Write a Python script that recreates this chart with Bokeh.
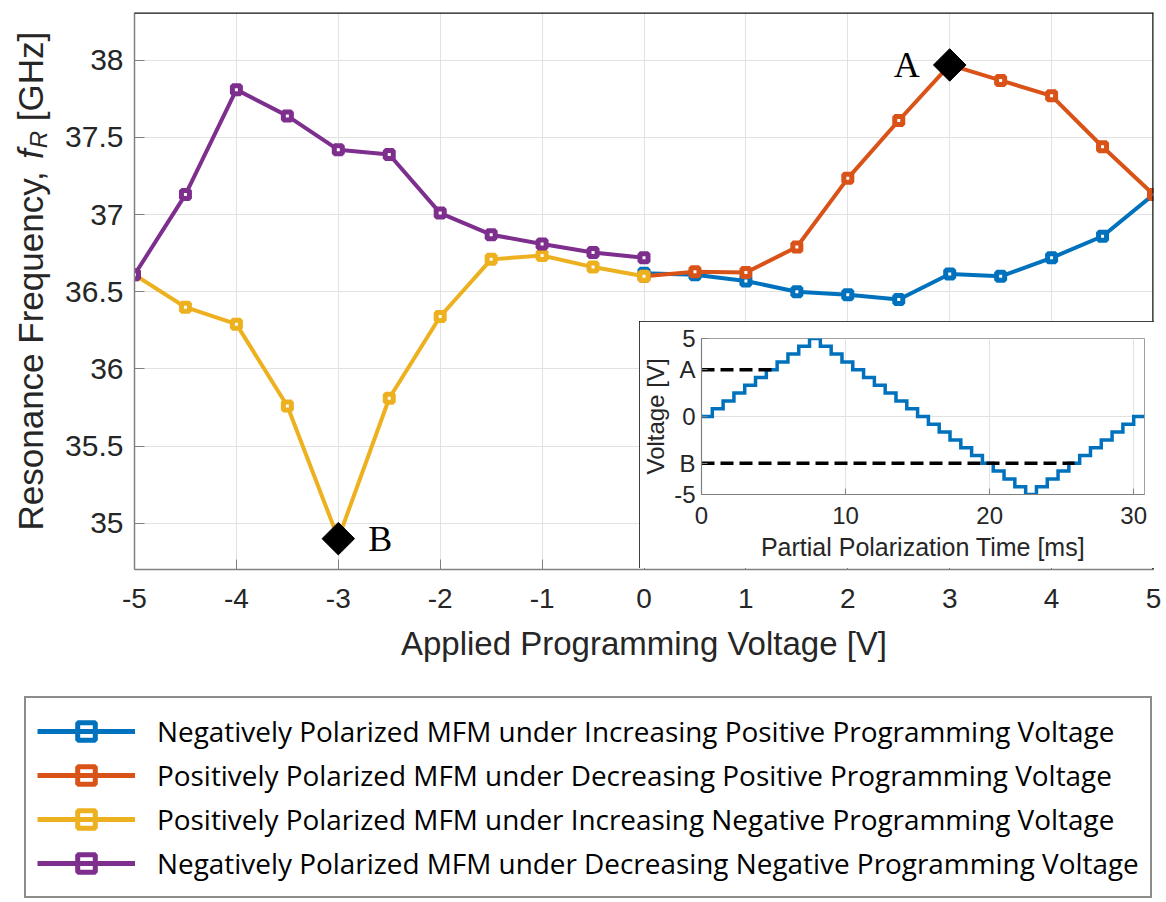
from math import pi
from bokeh.plotting import figure
from bokeh.models import Range1d, FixedTicker, Span, Legend, LegendItem
from bokeh.layouts import column, row
from bokeh.embed import file_html
from bokeh.resources import INLINE
from bokeh.core.properties import value

# ---------------- data (main chart) ----------------
series_names = [
    "Negatively Polarized MFM under Increasing Positive Programming Voltage",
    "Positively Polarized MFM under Decreasing Positive Programming Voltage",
    "Positively Polarized MFM under Increasing Negative Programming Voltage",
    "Negatively Polarized MFM under Decreasing Negative Programming Voltage",
]
series_colors = ["#0072BD", "#D95319", "#EDB120", "#7E2F8E"]

volt_blue = [0, 0.5, 1, 1.5, 2, 2.5, 3, 3.5, 4, 4.5, 5]
freq_blue = [36.62, 36.61, 36.57, 36.50, 36.48, 36.45, 36.615, 36.60, 36.72, 36.86, 37.13]

volt_orange = [5, 4.5, 4, 3.5, 3, 2.5, 2, 1.5, 1, 0.5, 0]
freq_orange = [37.13, 37.44, 37.77, 37.87, 37.97, 37.61, 37.235, 36.79, 36.625, 36.63, 36.60]

volt_yellow = [-5, -4.5, -4, -3.5, -3, -2.5, -2, -1.5, -1, -0.5, 0]
freq_yellow = [36.61, 36.40, 36.29, 35.76, 34.90, 35.81, 36.34, 36.71, 36.735, 36.66, 36.60]

volt_purple = [0, -0.5, -1, -1.5, -2, -2.5, -3, -3.5, -4, -4.5, -5]
freq_purple = [36.72, 36.755, 36.81, 36.87, 37.01, 37.39, 37.42, 37.64, 37.81, 37.13, 36.61]

point_x = [3, -3]
point_y = [37.97, 34.90]
point_labels = ["A", "B"]

X_MIN, X_MAX = -5, 5
Y_MIN, Y_MAX = 34.70, 38.31
x_ticks = [-5, -4, -3, -2, -1, 0, 1, 2, 3, 4, 5]
x_tick_labels = ["-5", "-4", "-3", "-2", "-1", "0", "1", "2", "3", "4", "5"]
y_ticks = [35, 35.5, 36, 36.5, 37, 37.5, 38]
y_tick_labels = ["35", "35.5", "36", "36.5", "37", "37.5", "38"]

x_label = "Applied Programming Voltage [V]"
y_label_parts = ["Resonance Frequency, ", "f", "R", "[GHz]"]

# ---------------- data (inset) ----------------
inset_time = [0, 0.75, 1.5, 2.25, 3, 3.75, 4.5, 5.25, 6, 6.75, 7.5, 8.25, 9, 9.75,
              10.5, 11.25, 12, 12.75, 13.5, 14.25, 15, 15.75, 16.5, 17.25, 18, 18.75,
              19.5, 20.25, 21, 21.75, 22.5, 23.25, 24, 24.75, 25.5, 26.25, 27, 27.75,
              28.5, 29.25, 30, 30.75]
inset_voltage = [0, 0.5, 1, 1.5, 2, 2.5, 3, 3.5, 4, 4.5, 5, 4.5, 4, 3.5,
                 3, 2.5, 2, 1.5, 1, 0.5, 0, -0.5, -1, -1.5, -2, -2.5,
                 -3, -3.5, -4, -4.5, -5, -4.5, -4, -3.5, -3, -2.5, -2, -1.5,
                 -1, -0.5, 0, 0]
ref_levels = [3, -3]
ref_start = [0, 0]
ref_end = [5.2, 25.9]
inset_x_ticks = [0, 10, 20, 30]
inset_x_tick_labels = ["0", "10", "20", "30"]
inset_y_ticks = [-5, -3, 0, 3, 5]
inset_y_tick_labels = ["-5", "B", "0", "A", "5"]
inset_y_grid = [-5, 0, 5]
inset_x_label = "Partial Polarization Time [ms]"
inset_y_label = "Voltage [V]"

SANS = "Liberation Sans"
SERIF = "Liberation Serif"
TXT = "#262626"
GRID = "#e2e2e2"
AXC = "#808080"

MAIN_H = 680
YLAB_W = 62

# ---------------- y-axis title (separate narrow panel) ----------------
yl = figure(width=YLAB_W, height=MAIN_H, x_range=Range1d(0, YLAB_W), y_range=Range1d(0, MAIN_H),
            output_backend="svg", toolbar_location=None, x_axis_type=None, y_axis_type=None,
            min_border=0, frame_align=False)
yl.outline_line_color = None
yl.grid.visible = False
yl.text(x=[30, 30, 38, 30], y=[150, 521.6, 532.3, 559.3], text=y_label_parts,
        angle=pi / 2, text_align="left", text_baseline="alphabetic",
        text_font=value(SANS), text_font_size=["35px", "35px", "24px", "35px"],
        text_font_style=["normal", "italic", "italic", "normal"], text_color=TXT)

# ---------------- main figure ----------------
p = figure(width=1166 - YLAB_W, height=MAIN_H, x_range=Range1d(X_MIN, X_MAX),
           y_range=Range1d(Y_MIN, Y_MAX), output_backend="svg", toolbar_location=None,
           min_border_left=133 - YLAB_W, min_border_right=13, min_border_top=12,
           min_border_bottom=111, frame_align=False)
p.outline_line_color = None
p.background_fill_color = "white"

xt = FixedTicker(ticks=x_ticks)
yt = FixedTicker(ticks=y_ticks)
p.xaxis.ticker = xt
p.yaxis.ticker = yt
p.xgrid.ticker = xt
p.ygrid.ticker = yt
p.xaxis.major_label_overrides = {t: s for t, s in zip(x_ticks, x_tick_labels)}
p.yaxis.major_label_overrides = {t: s for t, s in zip(y_ticks, y_tick_labels)}
for g in (p.xgrid[0], p.ygrid[0]):
    g.grid_line_color = GRID
    g.grid_line_width = 1
for ax in (p.xaxis[0], p.yaxis[0]):
    ax.axis_line_color = AXC
    ax.axis_line_width = 1.5
    ax.major_tick_line_color = AXC
    ax.major_tick_line_width = 1
    ax.major_tick_in = 10
    ax.major_tick_out = 0
    ax.minor_tick_line_color = None
    ax.major_label_text_font = SANS
    ax.major_label_text_color = TXT
p.xaxis.major_label_text_font_size = "28px"
p.xaxis.major_label_standoff = 19
p.yaxis.major_label_text_font_size = "30px"
p.yaxis.major_label_standoff = 11
p.xaxis.axis_label = x_label
p.xaxis.axis_label_text_font = SANS
p.xaxis.axis_label_text_font_size = "33px"
p.xaxis.axis_label_text_font_style = "normal"
p.xaxis.axis_label_text_color = TXT
p.xaxis.axis_label_standoff = 14

# black box edges on top and right
p.add_layout(Span(location=Y_MAX, dimension="width", line_color="#111111", line_width=2.5))
p.add_layout(Span(location=X_MAX, dimension="height", line_color="#111111", line_width=2.5))

series = [(volt_blue, freq_blue), (volt_orange, freq_orange),
          (volt_yellow, freq_yellow), (volt_purple, freq_purple)]
for (xs, ys), c in zip(series, series_colors):
    p.line(xs, ys, line_color=c, line_width=4)
    p.scatter(xs, ys, marker="square", size=8, line_color=c, line_width=5, fill_color="white")

p.scatter(point_x, point_y, marker="square", angle=pi / 4, size=23, color="black")
p.text(point_x, point_y, text=point_labels, x_offset=[-43, 42], y_offset=[0, 0],
       text_font=value(SERIF), text_font_size="36px", text_align="center",
       text_baseline="middle", text_color="black")

# ---------------- inset figure ----------------
IN_LEFT, IN_TOP, IN_W, IN_H = 639, 321, 515, 247
pin = figure(width=IN_W, height=IN_H, x_range=Range1d(inset_time[0], inset_time[-1]),
             y_range=Range1d(-5, 5), output_backend="svg", toolbar_location=None,
             min_border_left=62, min_border_right=10, min_border_top=17, min_border_bottom=74,
             margin=(IN_TOP - MAIN_H, 0, 0, IN_LEFT), frame_align=False)
pin.styles = {"outline": "2px solid #000000", "outline-offset": "-2px"}
pin.background_fill_color = "white"
pin.border_fill_color = "white"
pin.outline_line_color = "#a0a0a0"
pin.outline_line_width = 1
ixt = FixedTicker(ticks=inset_x_ticks)
iyt = FixedTicker(ticks=inset_y_ticks)
pin.xaxis.ticker = ixt
pin.yaxis.ticker = iyt
pin.xgrid.ticker = ixt
pin.ygrid.ticker = FixedTicker(ticks=inset_y_grid)
pin.xaxis.major_label_overrides = {t: s for t, s in zip(inset_x_ticks, inset_x_tick_labels)}
pin.yaxis.major_label_overrides = {t: s for t, s in zip(inset_y_ticks, inset_y_tick_labels)}
for g in (pin.xgrid[0], pin.ygrid[0]):
    g.grid_line_color = GRID
for ax in (pin.xaxis[0], pin.yaxis[0]):
    ax.axis_line_color = AXC
    ax.axis_line_width = 1.2
    ax.major_tick_line_color = AXC
    ax.major_tick_in = 6
    ax.major_tick_out = 0
    ax.minor_tick_line_color = None
    ax.major_label_text_font = SANS
    ax.major_label_text_font_size = "24px"
    ax.major_label_text_color = TXT
    ax.axis_label_text_font = SANS
    ax.axis_label_text_font_size = "24px"
    ax.axis_label_text_font_style = "normal"
    ax.axis_label_text_color = TXT
pin.xaxis.major_label_standoff = 12
pin.xaxis.axis_label = inset_x_label
pin.xaxis.axis_label_text_font_size = "25px"
pin.xaxis.axis_label_standoff = 6
pin.yaxis.major_label_standoff = 6
pin.yaxis.axis_label = inset_y_label
pin.yaxis.axis_label_standoff = 2

pin.step(inset_time, inset_voltage, mode="after", line_color="#0072BD", line_width=3.5,
         line_join="miter")
pin.segment(x0=ref_start, y0=ref_levels, x1=ref_end, y1=ref_levels, line_color="black",
            line_width=3.5, line_dash="13 6")

# ---------------- legend figure ----------------
LEG_H = 222
pl = figure(width=1166, height=LEG_H, x_range=Range1d(0, 1), y_range=Range1d(0, 1),
            output_backend="svg", toolbar_location=None, x_axis_type=None, y_axis_type=None,
            min_border=0, margin=(MAIN_H - (IN_TOP + IN_H), 0, 0, 0), frame_align=False)
pl.outline_line_color = None
items = []
for name, c in zip(series_names, series_colors):
    r1 = pl.line([-2, -1], [-2, -1], line_color=c, line_width=5)
    r2 = pl.scatter([-2], [-2], marker="square", size=16, line_color=c, line_width=5,
                    fill_color=None)
    items.append(LegendItem(label=name, renderers=[r1, r2]))
leg = Legend(items=items, location=(24, 4), orientation="vertical",
             label_text_font="Open Sans", label_text_font_size="27.9px", label_text_color="black",
             label_height=44, label_width=982, label_standoff=22,
             glyph_width=98, glyph_height=44, spacing=0, padding=11,
             border_line_color="#1a1a1a", border_line_width=2,
             background_fill_color="white", background_fill_alpha=1.0)
pl.add_layout(leg)

layout = column(row(yl, p, spacing=0), pin, pl, spacing=0)
open("out.html", "w").write(file_html(layout, INLINE))
